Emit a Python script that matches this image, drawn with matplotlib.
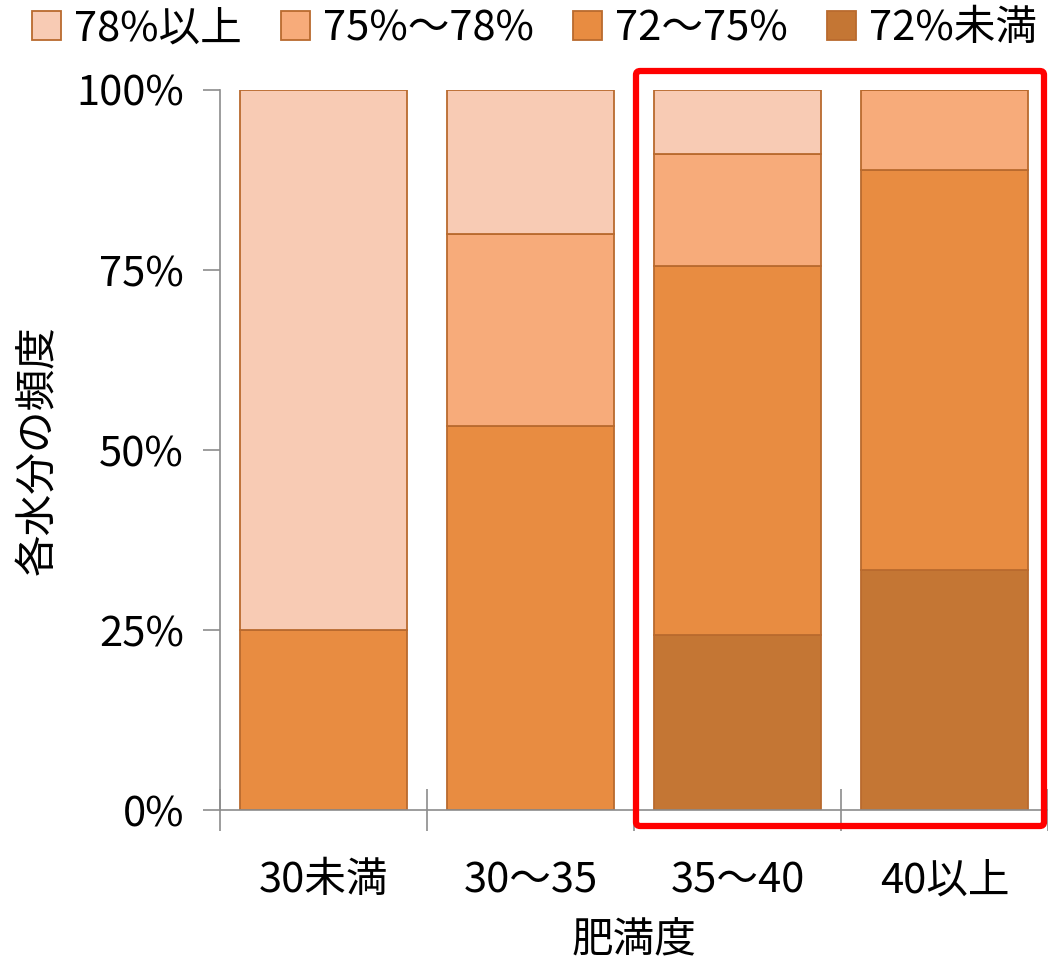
import numpy as np
import matplotlib.pyplot as plt
from matplotlib.patches import FancyBboxPatch

plt.rcParams['font.family'] = ['Noto Sans CJK JP', 'DejaVu Sans']

categories = ['30未満', '30～35', '35～40', '40以上']
# share of each moisture band (%), bottom to top
under72 = [0.0, 0.0, 24.4, 33.3]
r72_75 = [25.0, 53.3, 51.1, 55.6]
r75_78 = [0.0, 26.7, 15.6, 11.1]
over78 = [75.0, 20.0, 8.9, 0.0]

series = [
    ('72%未満', under72, '#C47634'),
    ('72～75%', r72_75, '#E88C41'),
    ('75%～78%', r75_78, '#F7AB7A'),
    ('78%以上', over78, '#F8CBB4'),
]

fs = 30

fig = plt.figure(figsize=(10.48, 9.74), dpi=100)
ax = fig.add_axes([0.21, 0.168, 0.79, 0.7396])

x = np.arange(len(categories))
bottom = np.zeros(len(categories))
handles = {}
for name, vals, col in series:
    bars = ax.bar(x, vals, width=0.81, bottom=bottom, color=col,
                  edgecolor='#B96A2E', linewidth=1.3, label=name)
    handles[name] = bars
    bottom += np.array(vals)

ax.set_xlim(-0.5, 3.5)
ax.set_ylim(0, 100)
ax.set_yticks([0, 25, 50, 75, 100])
ax.set_yticklabels(['0%', '25%', '50%', '75%', '100%'], fontsize=fs)
ax.set_xticks(x)
ax.set_xticklabels(categories, fontsize=fs)
ax.tick_params(axis='x', length=0, pad=36)
ax.tick_params(axis='y', length=12, width=1.2, color='#8C8C8C', pad=14)

# category boundary ticks crossing the x axis
ax.set_xticks(np.arange(-0.5, 3.6, 1.0), minor=True)
ax.tick_params(axis='x', which='minor', direction='inout', length=30,
               width=1.2, color='#8C8C8C')

for side in ['top', 'right']:
    ax.spines[side].set_visible(False)
for side in ['left', 'bottom']:
    ax.spines[side].set_color('#8C8C8C')
    ax.spines[side].set_linewidth(1.2)

ax.set_ylabel('各水分の頻度', fontsize=fs, labelpad=12)
ax.set_xlabel('肥満度', fontsize=fs, labelpad=14)

order = ['78%以上', '75%～78%', '72～75%', '72%未満']
fig.legend([handles[n] for n in order], order, loc='upper center',
           bbox_to_anchor=(0.51, 1.03), ncol=4, frameon=False, fontsize=fs,
           handlelength=0.7, handleheight=0.7, handletextpad=0.3,
           columnspacing=0.95)

# highlight box around the two heavier groups
box = FancyBboxPatch((636 / 1048, 1 - 826 / 974), 408 / 1048, 755 / 974,
                     boxstyle='round,pad=0,rounding_size=0.004',
                     transform=fig.transFigure, fill=False,
                     edgecolor='#FF0000', linewidth=4.5, clip_on=False)
fig.patches.append(box)

fig.savefig('out.png', dpi=100)
